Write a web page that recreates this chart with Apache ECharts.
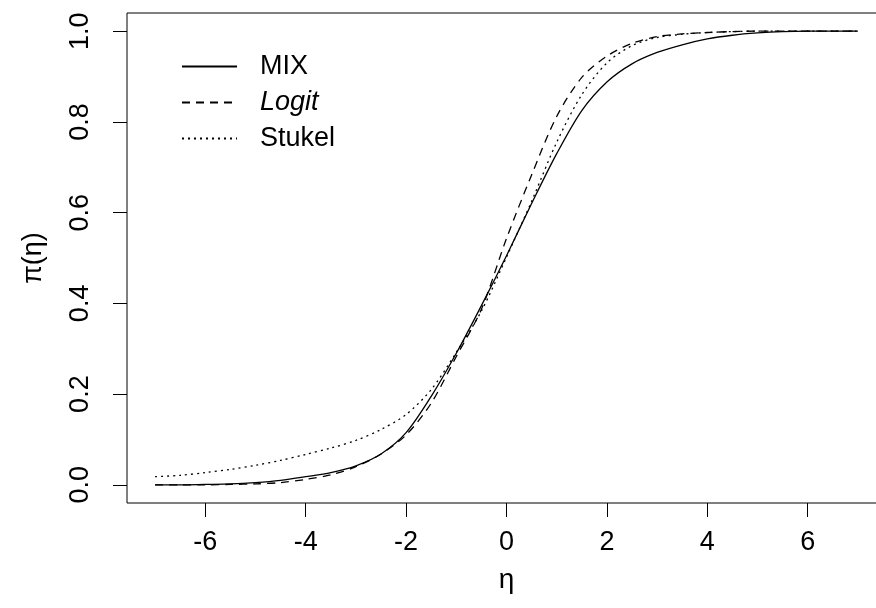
<!DOCTYPE html>
<html>
<head>
<meta charset="utf-8">
<script src="https://cdn.jsdelivr.net/npm/echarts@6/dist/echarts.min.js"></script>
<style>html,body{margin:0;padding:0;background:#fff}#c{width:876px;height:608px}</style>
</head>
<body>
<div id="c"></div>
<script>
var eta = [-7,-6.5,-6,-5.5,-5,-4.5,-4,-3.5,-3,-2.5,-2,-1.5,-1,-0.5,0,0.5,1,1.5,2,2.5,3,3.5,4,4.5,5,5.5,6,6.5,7];
var mixValues = [0.000,0.000,0.001,0.002,0.005,0.010,0.018,0.027,0.042,0.068,0.115,0.195,0.290,0.395,0.505,0.620,0.730,0.825,0.888,0.928,0.953,0.970,0.983,0.991,0.996,0.999,1.000,1.000,1.000];
var logitValues = [0.000,0.000,0.000,0.001,0.002,0.005,0.012,0.022,0.040,0.068,0.110,0.180,0.283,0.387,0.543,0.683,0.812,0.898,0.945,0.973,0.988,0.994,0.997,0.999,1.000,1.000,1.000,1.000,1.000];
var stukelValues = [0.018,0.021,0.027,0.034,0.043,0.054,0.067,0.081,0.098,0.122,0.155,0.210,0.292,0.383,0.502,0.625,0.755,0.860,0.930,0.968,0.986,0.993,0.997,0.999,1.000,1.000,1.000,1.000,1.000];
var xTicks = [-6,-4,-2,0,2,4,6];
var yTicks = [0,0.2,0.4,0.6,0.8,1.0];
var seriesNames = ['MIX','Logit','Stukel'];

function pairs(v){ return eta.map(function(e,i){ return [e, v[i]]; }); }

var FONT = 'Liberation Sans, Arial, sans-serif';
var chart = echarts.init(document.getElementById('c'), null, {renderer:'canvas'});
chart.setOption({
  animation: false,
  backgroundColor: '#fff',
  grid: {left: 127, top: 13, width: 759, height: 490, outerBoundsMode: 'none', containLabel: false,
    show: true, borderColor: '#000', borderWidth: 1, backgroundColor: 'transparent'},
  legend: {
    orient: 'vertical', left: 181, top: 53, padding: 0, itemWidth: 55, itemHeight: 14, itemGap: 9,
    data: seriesNames,
    itemStyle: {opacity: 0},
    textStyle: {fontFamily: FONT, fontSize: 27, lineHeight: 27, color: '#000', padding: [0,0,0,18],
      rich: {i: {fontStyle: 'italic', fontFamily: FONT, fontSize: 27, lineHeight: 27, color: '#000'}}},
    formatter: function(n){ return n === 'Logit' ? '{i|Logit}' : n; }
  },
  xAxis: {
    type: 'value', min: -7.56, max: 7.56,
    name: 'η', nameLocation: 'middle', nameGap: 63,
    nameTextStyle: {fontFamily: FONT, fontSize: 28, color: '#000'},
    axisLine: {show: false, onZero: false},
    axisTick: {show: true, inside: false, length: 14, customValues: xTicks, lineStyle: {color: '#000', width: 1}},
    axisLabel: {show: true, margin: 26, customValues: xTicks, fontFamily: FONT, fontSize: 27, color: '#000',
      formatter: function(v){ return String(v); }},
    splitLine: {show: false}
  },
  yAxis: {
    type: 'value', min: -0.04, max: 1.04,
    name: 'π(η)', nameLocation: 'middle', nameGap: 80, nameRotate: 90,
    nameTextStyle: {fontFamily: FONT, fontSize: 27, color: '#000'},
    axisLine: {show: false, onZero: false},
    axisTick: {show: true, inside: false, length: 14, customValues: yTicks, lineStyle: {color: '#000', width: 1}},
    axisLabel: {show: true, margin: 33, rotate: 90, customValues: yTicks, fontFamily: FONT, fontSize: 27, color: '#000',
      formatter: function(v){ return v.toFixed(1); }},
    splitLine: {show: false}
  },
  series: [
    {name: 'MIX', type: 'line', data: pairs(mixValues), showSymbol: false, symbol: 'none', smooth: 0.3,
      lineStyle: {color: '#000', width: 1.3, type: 'solid'}, itemStyle: {color: '#000'}},
    {name: 'Logit', type: 'line', data: pairs(logitValues), showSymbol: false, symbol: 'none', smooth: 0.3,
      lineStyle: {color: '#000', width: 1.3, type: [8,6]}, itemStyle: {color: '#000'}},
    {name: 'Stukel', type: 'line', data: pairs(stukelValues), showSymbol: false, symbol: 'none', smooth: 0.3,
      lineStyle: {color: '#000', width: 1.3, type: [2,4]}, itemStyle: {color: '#000'}}
  ]
});
</script>
</body>
</html>
